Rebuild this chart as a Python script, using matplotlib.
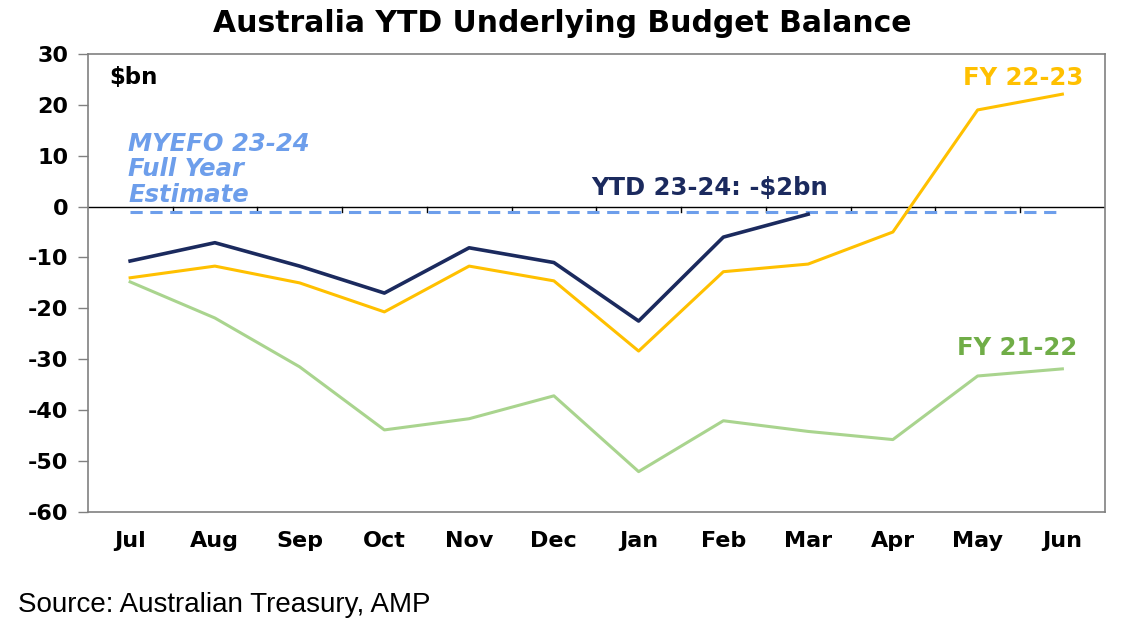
import matplotlib.pyplot as plt

plt.rcParams['font.family'] = ['DejaVu Sans']

months = ['Jul', 'Aug', 'Sep', 'Oct', 'Nov', 'Dec', 'Jan', 'Feb', 'Mar', 'Apr', 'May', 'Jun']
ytd_23_24 = [-10.7, -7.1, -11.7, -17.0, -8.1, -11.0, -22.5, -6.0, -1.5]
fy_22_23 = [-14.0, -11.7, -15.0, -20.7, -11.7, -14.6, -28.4, -12.8, -11.3, -5.0, 19.0, 22.1]
fy_21_22 = [-14.8, -21.9, -31.5, -43.9, -41.7, -37.2, -52.1, -42.1, -44.2, -45.8, -33.3, -31.9]
myefo_estimate = -1.0
y_ticks = [30, 20, 10, 0, -10, -20, -30, -40, -50, -60]

navy = '#1b2a5e'
gold = '#ffc000'
green_line = '#a9d48e'
green_text = '#70ad47'
light_blue = '#6d9eeb'

fig = plt.figure(figsize=(11.25, 6.35), dpi=100)
ax = fig.add_axes([0.078, 0.194, 0.904, 0.721])

x = list(range(len(months)))

# оценка MYEFO
ax.plot([x[0], x[-1]], [myefo_estimate, myefo_estimate], color=light_blue, lw=2.2,
        ls=(0, (4, 2.5)), zorder=2)
ax.axhline(0, color='black', lw=1, zorder=1)
# засечки на нулевой линии между месяцами
for b in x[:-1]:
    ax.plot([b + 0.5, b + 0.5], [0, -1.1], color='black', lw=1, zorder=1)

ax.plot(x, fy_21_22, color=green_line, lw=2.2, zorder=3)
ax.plot(x, fy_22_23, color=gold, lw=2.2, zorder=4)
ax.plot(x[:len(ytd_23_24)], ytd_23_24, color=navy, lw=2.6, zorder=5)

ax.set_xlim(-0.5, 11.5)
ax.set_ylim(-60, 30)
ax.set_yticks(y_ticks)
ax.set_yticklabels([str(v) for v in y_ticks], fontsize=16, fontweight='bold')
ax.set_xticks(x)
ax.set_xticklabels(months, fontsize=16, fontweight='bold')
ax.tick_params(axis='x', length=0, pad=14)
ax.tick_params(axis='y', length=7, width=1, color='#808080', pad=7)
for s in ax.spines.values():
    s.set_color('#808080')
    s.set_linewidth(1.2)

ax.text(-0.25, 25.3, '$bn', fontsize=16.5, fontweight='bold', ha='left', va='center')
ax.text(-0.02, 0.0, 'MYEFO 23-24\nFull Year\nEstimate', fontsize=17.5, fontweight='bold',
        style='italic', color=light_blue, ha='left', va='bottom', linespacing=1.08)
ax.text(8.24, 3.7, 'YTD 23-24: -$2bn', fontsize=17.5, fontweight='bold', color=navy,
        ha='right', va='center')
ax.text(11.25, 25.2, 'FY 22-23', fontsize=17.5, fontweight='bold', color=gold,
        ha='right', va='center')
ax.text(11.17, -27.8, 'FY 21-22', fontsize=17.5, fontweight='bold', color=green_text,
        ha='right', va='center')

fig.text(0.5, 0.963, 'Australia YTD Underlying Budget Balance', fontsize=21.5,
         fontweight='bold', ha='center', va='center')
fig.text(0.016, 0.047, 'Source: Australian Treasury, AMP', fontsize=20,
         family=['Liberation Sans', 'DejaVu Sans'], ha='left', va='center')

fig.savefig('out.png', dpi=100)
